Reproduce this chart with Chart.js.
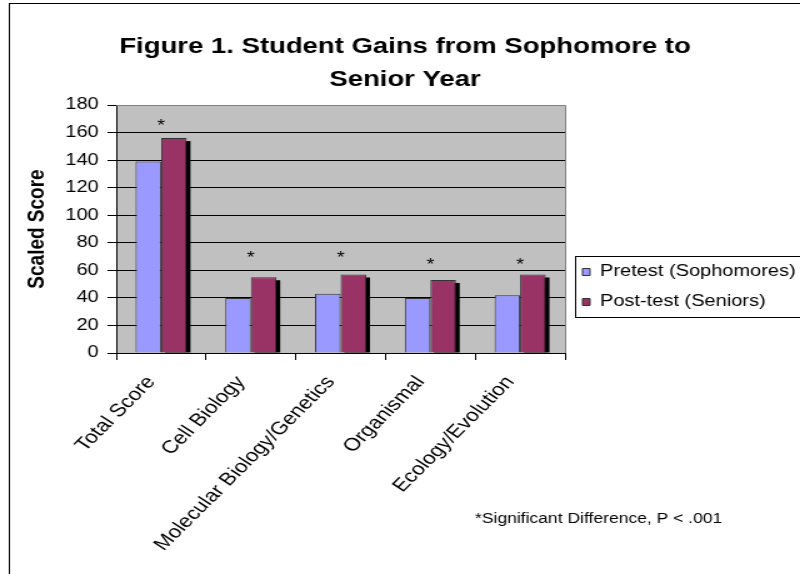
<!DOCTYPE html>
<html>
<head>
<meta charset="utf-8">
<script src="https://cdn.jsdelivr.net/npm/chart.js@4.4.0/dist/chart.umd.min.js"></script>
<style>
  html, body { margin: 0; padding: 0; background: #fff; overflow: hidden; }
  /* the source picture is stretched sideways, so draw narrow and widen */
  #wrap { width: 640px; height: 574px; transform: scaleX(1.25); transform-origin: 0 0; }
  #chart { width: 640px; height: 574px; }
</style>
</head>
<body>
<div id="wrap"><canvas id="chart" width="640" height="574"></canvas></div>
<script>
const categories = ["Total Score", "Cell Biology", "Molecular Biology/Genetics", "Organismal", "Ecology/Evolution"];
const pretest = [139, 40, 43, 40, 42];
const posttest = [156, 55, 57, 53, 57];
// height (in score units) where the significance asterisk sits
const starLevels = [164, 68.5, 68.5, 63.5, 63.5];
const seriesNames = ["Pretest (Sophomores)", "Post-test (Seniors)"];
const titleLines = ["Figure 1. Student Gains from Sophomore to", "Senior Year"];
const footnote = "*Significant Difference, P < .001";

const FONT = "Arial, 'Liberation Sans', sans-serif";
Chart.defaults.font.family = FONT;
Chart.defaults.color = "#000";

// background, plot fill and the outer frame
const backdrop = {
    id: "backdrop",
    beforeDraw(chart) {
        const ctx = chart.ctx;
        const a = chart.chartArea;
        ctx.save();
        ctx.fillStyle = "#fff";
        ctx.fillRect(0, 0, chart.width, chart.height);
        ctx.fillStyle = "#C0C0C0";
        ctx.fillRect(a.left, a.top, a.right - a.left, a.bottom - a.top);
        ctx.strokeStyle = "#000";
        ctx.lineWidth = 1;
        ctx.strokeRect(7.5, 3.5, 800, 800);
        ctx.restore();
    }
};

// black drop shadow behind the bars of the last series (the first one's is hidden anyway)
const barShadow = {
    id: "barShadow",
    beforeDatasetDraw(chart, args) {
        if (args.index !== chart.data.datasets.length - 1) return;
        const ctx = chart.ctx;
        ctx.save();
        ctx.fillStyle = "#000";
        args.meta.data.forEach(bar => {
            const h = bar.base - bar.y - 3;
            if (h > 0) ctx.fillRect(bar.x - bar.width / 2 + 3, bar.y + 3, bar.width, h);
        });
        ctx.restore();
    }
};

// asterisks, plot frame, legend frame and footnote
const extras = {
    id: "extras",
    afterDraw(chart) {
        const ctx = chart.ctx;
        const a = chart.chartArea;
        const x = chart.scales.x;
        const y = chart.scales.y;
        ctx.save();

        ctx.strokeStyle = "#808080";
        ctx.lineWidth = 1;
        ctx.beginPath();
        ctx.moveTo(a.left, a.top + 0.5);
        ctx.lineTo(a.right + 0.5, a.top + 0.5);
        ctx.lineTo(a.right + 0.5, a.bottom);
        ctx.stroke();

        ctx.fillStyle = "#000";
        ctx.font = "16px " + FONT;
        ctx.textAlign = "center";
        ctx.textBaseline = "middle";
        starLevels.forEach((v, i) => {
            ctx.fillText("*", x.getPixelForValue(i), y.getPixelForValue(v));
        });

        const boxes = chart.legend.legendHitBoxes;
        if (boxes.length) {
            const top = boxes[0].top - 8;
            const bottom = boxes[boxes.length - 1].top + boxes[boxes.length - 1].height + 7;
            ctx.strokeStyle = "#000";
            ctx.strokeRect(Math.round(boxes[0].left - 6) + 0.5, Math.round(top) + 0.5, 300, Math.round(bottom - top));
        }

        ctx.font = "14px " + FONT;
        ctx.textAlign = "left";
        ctx.fillText(footnote, 380, 519);
        ctx.restore();
    }
};

const chart = new Chart(document.getElementById("chart").getContext("2d"), {
    type: "bar",
    data: {
        labels: categories,
        datasets: [{
            label: seriesNames[0],
            data: pretest,
            backgroundColor: "#9999FF",
            borderColor: "#333333",
            borderWidth: 1
        }, {
            label: seriesNames[1],
            data: posttest,
            backgroundColor: "#993366",
            borderColor: "#333333",
            borderWidth: 1
        }]
    },
    options: {
        responsive: false,
        animation: false,
        devicePixelRatio: 1,
        layout: { padding: { left: 8, right: 0, top: 0, bottom: 0 } },
        datasets: {
            bar: { categoryPercentage: 0.57, barPercentage: 1 }
        },
        plugins: {
            title: {
                display: true,
                text: titleLines,
                color: "#000",
                font: { size: 22, weight: "bold", lineHeight: 1.5 },
                padding: { top: 30, bottom: 9 }
            },
            legend: {
                position: "right",
                maxWidth: 188,
                labels: {
                    boxWidth: 6,
                    boxHeight: 7,
                    padding: 14,
                    color: "#000",
                    font: { size: 16 }
                }
            },
            tooltip: { enabled: false }
        },
        scales: {
            x: {
                offset: true,
                grid: {
                    offset: true,
                    drawOnChartArea: false,
                    tickLength: 7,
                    color: "#000"
                },
                border: { color: "#000" },
                ticks: {
                    autoSkip: false,
                    minRotation: 51,
                    maxRotation: 51,
                    padding: 12,
                    labelOffset: -8,
                    color: "#000",
                    font: { size: 18 }
                },
                afterFit(scale) { scale.height = 221; }
            },
            y: {
                min: 0,
                max: 180,
                ticks: {
                    stepSize: 20,
                    padding: 7,
                    color: "#000",
                    font: { size: 16 }
                },
                grid: {
                    color: c => (c.tick && c.tick.value === 180) ? "#808080" : "#000",
                    tickColor: "#000",
                    tickLength: 7
                },
                border: { color: "#000" },
                title: {
                    display: true,
                    text: "Scaled Score",
                    color: "#000",
                    font: { size: 19, weight: "bold" },
                    padding: { top: 10, bottom: 0 }
                },
                afterFit(scale) { scale.width = 85; }
            }
        }
    },
    plugins: [backdrop, barShadow, extras]
});
</script>
</body>
</html>
